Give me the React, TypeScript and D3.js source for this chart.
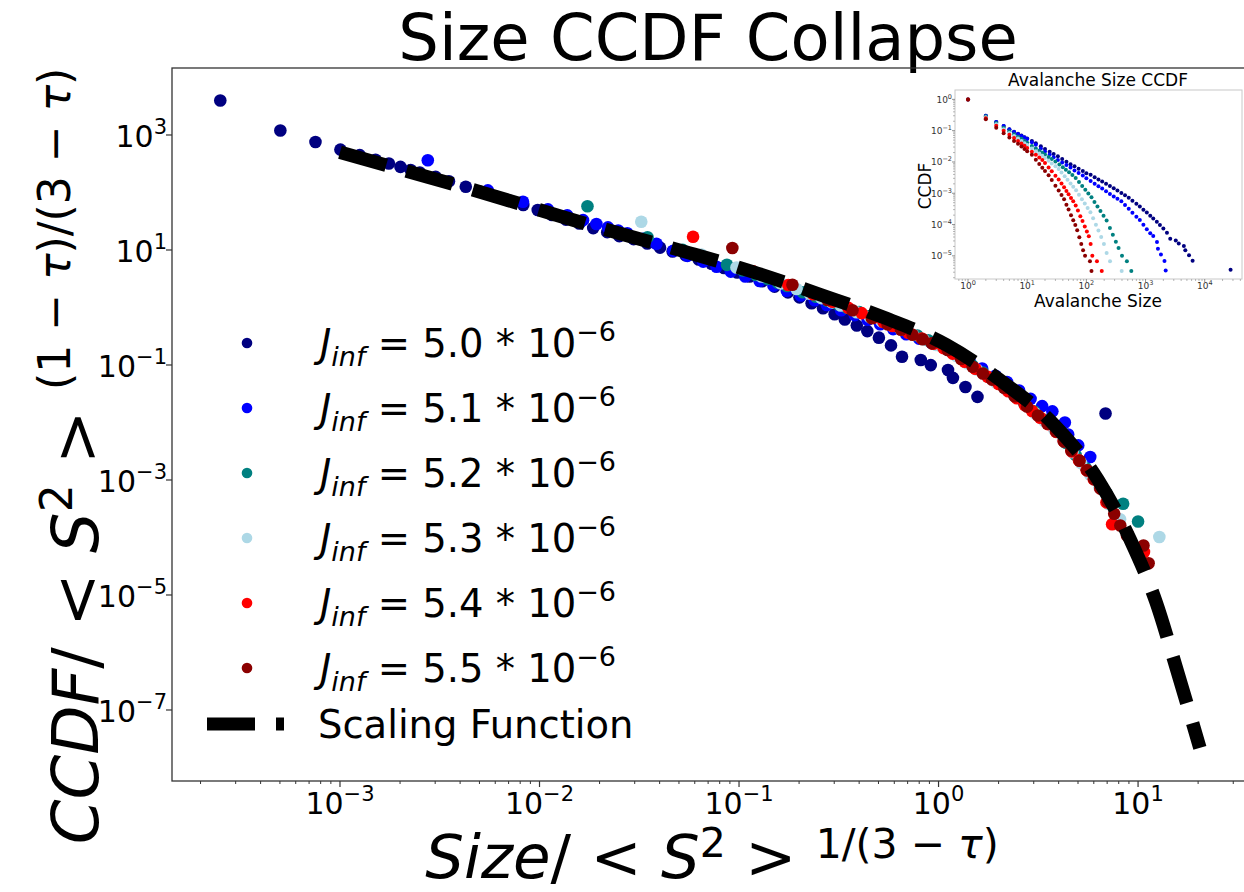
import React from 'react';
import * as d3 from 'd3';

// avalanche CCDF per J_inf run, collapsed with <S^2> factors
const jLabels = ['5.0', '5.1', '5.2', '5.3', '5.4', '5.5'];
const colors = ['#000080', '#0000ff', '#008080', '#add8e6', '#ff0000', '#8b0000'];
const s2Factors = [3981, 363, 57.5, 30.9, 17.0, 10.8];

const sizes50 = [1, 2, 3, 4, 5, 6, 7, 8, 9, 10, 12, 14, 17, 20, 24, 28, 33, 39, 46, 54, 63, 74, 87, 100, 118, 138, 160, 185, 215, 250, 290, 335, 390, 450, 520, 600, 700, 800, 920, 1050, 1200, 1350, 1550, 1750, 2000, 2300, 2612, 3243, 3640, 4440, 4700, 5430, 6240, 27350];
const ccdf50 = [1, 0.30, 0.19, 0.14, 0.112, 0.093, 0.08, 0.07, 0.062, 0.056, 0.0469, 0.0393, 0.0316, 0.0262, 0.0213, 0.0181, 0.0152, 0.01247, 0.0102, 0.00847, 0.00726, 0.00604, 0.00513, 0.00437, 0.00388, 0.00326, 0.00276, 0.00237, 0.00203, 0.00172, 0.00145, 0.00122, 0.00102, 0.000867, 0.000718, 0.00058, 0.000461, 0.000377, 0.000298, 0.000243, 0.000192, 0.000155, 0.000122, 9.75e-5, 7.5e-5, 5.5e-5, 3.5e-5, 3.07e-5, 2.5e-5, 2.06e-5, 1.5e-5, 1.04e-5, 7.0e-6, 3.6e-6];

const sizes51 = [1, 2, 3, 4, 5, 6, 7, 8, 9, 10, 12, 14, 17, 20, 24, 28, 33, 39, 46, 54, 63, 74, 87, 100, 118, 138, 160, 185, 215, 250, 290, 335, 390, 450, 520, 600, 700, 800, 920, 1050, 1200, 1350, 1560, 1620, 1820, 2090, 2190];
const ccdf51 = [1, 0.30, 0.19, 0.14, 0.11, 0.091, 0.078, 0.068, 0.060, 0.054, 0.043, 0.0354, 0.0267, 0.0218, 0.0173, 0.0141, 0.0116, 0.00955, 0.00796, 0.0066, 0.00538, 0.00446, 0.00367, 0.00304, 0.00247, 0.00203, 0.00169, 0.00141, 0.00116, 0.000946, 0.000792, 0.000667, 0.000555, 0.000425, 0.000318, 0.000239, 0.000179, 0.000139, 9.9e-5, 7.1e-5, 5.3e-5, 4.3e-5, 2.75e-5, 1.7e-5, 1.1e-5, 6.9e-6, 3.4e-6];

const sizes52 = [1, 2, 3, 4, 5, 6, 7, 8, 9, 10, 12, 14, 16, 18, 20, 23, 26, 30, 35, 40, 45, 51, 58, 66, 75, 85, 96, 108, 122, 137, 154, 173, 195, 220, 250, 280, 315, 350, 400, 484, 575];
const ccdf52 = [1, 0.29, 0.175, 0.125, 0.096, 0.077, 0.064, 0.055, 0.047, 0.041, 0.0321, 0.0268, 0.0228, 0.0197, 0.0172, 0.01445, 0.0124, 0.01038, 0.00828, 0.00676, 0.00566, 0.00468, 0.00385, 0.00305, 0.00228, 0.0017, 0.00129, 0.00098, 0.00074, 0.00053, 0.000378, 0.000272, 0.000192, 0.000135, 7.7e-5, 4.7e-5, 2.8e-5, 1.78e-5, 1.0e-5, 6.7e-6, 3.3e-6];

const sizes53 = [1, 2, 3, 4, 5, 6, 7, 8, 9, 10, 12, 14, 16, 18, 20, 23, 26, 30, 34, 38, 43, 48, 54, 60, 67, 75, 84, 94, 105, 117, 130, 145, 160, 178, 198, 220, 251, 395];
const ccdf53 = [1, 0.27, 0.16, 0.112, 0.085, 0.068, 0.056, 0.047, 0.040, 0.035, 0.0267, 0.022, 0.0186, 0.0157, 0.0134, 0.01084, 0.009, 0.00724, 0.006, 0.00461, 0.00348, 0.0027, 0.00206, 0.00161, 0.00124, 0.000895, 0.000646, 0.000467, 0.00034, 0.000249, 0.000158, 9.8e-5, 6.4e-5, 4.0e-5, 2.4e-5, 1.24e-5, 6.7e-6, 3.3e-6];

const sizes54 = [1, 2, 3, 4, 5, 6, 7, 8, 9, 10, 12, 14, 16, 18, 20, 23, 26, 30, 34, 38, 42, 46, 50, 55, 60, 66, 72, 79, 86, 94, 102, 110, 118, 126, 151, 182];
const ccdf54 = [1, 0.25, 0.145, 0.1, 0.074, 0.058, 0.047, 0.039, 0.033, 0.028, 0.0214, 0.0169, 0.0138, 0.01156, 0.00929, 0.00671, 0.00507, 0.00365, 0.00274, 0.00205, 0.00155, 0.00118, 0.000933, 0.000711, 0.000552, 0.000404, 0.000279, 0.000185, 0.000129, 8.7e-5, 6.05e-5, 4.2e-5, 2.4e-5, 1.0e-5, 6.7e-6, 3.3e-6];

const sizes55 = [1, 2, 3, 4, 5, 6, 7, 8, 9, 10, 12, 14, 16, 18, 20, 23, 26, 30, 34, 38, 42, 46, 50, 55, 60, 65, 70, 76, 82, 88, 95, 115, 122];
const ccdf55 = [1, 0.23, 0.125, 0.083, 0.06, 0.047, 0.038, 0.031, 0.026, 0.022, 0.0169, 0.01178, 0.00865, 0.00659, 0.00516, 0.00373, 0.00264, 0.001746, 0.001222, 0.000883, 0.000646, 0.000432, 0.000301, 0.0002, 0.000136, 9.6e-5, 6.6e-5, 3.9e-5, 2.4e-5, 1.5e-5, 1.0e-5, 6.7e-6, 3.3e-6];

// scaling function
const scalingX = [0.001, 0.00275, 0.00589, 0.0126, 0.0269, 0.0562, 0.1175, 0.257, 0.537, 1.096, 2.14, 3.80, 6.31, 9.12, 12.3, 15.5, 20.4];
const scalingY = [501, 186, 87.1, 38.9, 18.2, 8.91, 4.17, 1.66, 0.661, 0.224, 0.0479, 0.00912, 0.001, 9.3e-5, 7.6e-6, 5.6e-7, 2.2e-8];

const mainXTicks = [1e-3, 1e-2, 1e-1, 1, 10];
const mainYTicks = [1e3, 1e1, 1e-1, 1e-3, 1e-5, 1e-7];
const insetXTicks = [1, 10, 100, 1000, 10000];
const insetYTicks = [1, 1e-1, 1e-2, 1e-3, 1e-4, 1e-5];

const allSizes = [sizes50, sizes51, sizes52, sizes53, sizes54, sizes55];
const allCcdf = [ccdf50, ccdf51, ccdf52, ccdf53, ccdf54, ccdf55];

const FONT = 'DejaVu Sans';

function expText(v: number) {
  const e = Math.round(Math.log10(v));
  return e < 0 ? '\u2212' + Math.abs(e) : String(e);
}

function minorTicks(lo: number, hi: number) {
  const out: number[] = [];
  for (let e = Math.floor(Math.log10(lo)); e <= Math.ceil(Math.log10(hi)); e++) {
    for (let m = 2; m <= 9; m++) {
      const v = m * Math.pow(10, e);
      if (v >= lo && v <= hi) out.push(v);
    }
  }
  return out;
}

export default function App() {
  // main axes
  const L = 172, R = 1246, T = 68, B = 781;
  const x = d3.scaleLog().domain([Math.pow(10, -3.842), Math.pow(10, 1.541)]).range([L, R]);
  const y = d3.scaleLog().domain([Math.pow(10, 4.165), Math.pow(10, -8.235)]).range([T, B]);

  // inset axes
  const iL = 955, iR = 1242, iT = 90, iB = 279;
  const ix = d3.scaleLog().domain([Math.pow(10, -0.22), Math.pow(10, 4.63)]).range([iL, iR]);
  const iy = d3.scaleLog().domain([Math.pow(10, 0.3), Math.pow(10, -5.74)]).range([iT, iB]);

  const scalingPts = scalingX.map((v, i) => [x(v), y(scalingY[i])] as [number, number]);
  const scalingPath = d3.line().curve(d3.curveMonotoneX)(scalingPts) || '';

  const dash = '48 21';

  return (
    <div style={{ position: 'absolute', left: 0, top: 0 }}>
      <svg width={1244} height={892} style={{ display: 'block', background: '#fff' }} fontFamily={FONT}>
        <defs>
          <clipPath id="mainClip">
            <rect x={L} y={T} width={R - L} height={B - T} />
          </clipPath>
        </defs>

        {/* title */}
        <text x={708} y={60} textAnchor="middle" fontSize={64} fill="#000">Size CCDF Collapse</text>

        {/* collapsed data */}
        <g clipPath="url(#mainClip)">
          {allSizes.map((sz, i) => (
            <g key={i} fill={colors[i]}>
              {sz.map((s, k) => (
                <circle key={k} cx={x(s / s2Factors[i])} cy={y(allCcdf[i][k] * s2Factors[i])} r={6.3} />
              ))}
            </g>
          ))}
          <path d={scalingPath} fill="none" stroke="#000" strokeWidth={13.5} strokeDasharray={dash} />
        </g>

        {/* main axes frame */}
        <rect x={L} y={T} width={R - L} height={B - T} fill="none" stroke="#333" strokeWidth={1.3} />

        {/* x ticks */}
        {minorTicks(x.domain()[0], x.domain()[1]).map((v, i) => (
          <line key={'mx' + i} x1={x(v)} x2={x(v)} y1={B} y2={B + 3} stroke="#333" strokeWidth={1} />
        ))}
        {mainXTicks.map((v, i) => (
          <g key={'x' + i}>
            <line x1={x(v)} x2={x(v)} y1={B} y2={B + 6} stroke="#333" strokeWidth={1.2} />
            <text x={x(v)} y={814} textAnchor="middle" fontSize={30}>
              10<tspan dy={-13} fontSize={21}>{expText(v)}</tspan>
            </text>
          </g>
        ))}

        {/* y ticks */}
        {mainYTicks.map((v, i) => (
          <g key={'y' + i}>
            <line x1={L - 6} x2={L} y1={y(v)} y2={y(v)} stroke="#333" strokeWidth={1.2} />
            <text x={167} y={y(v) + 12} textAnchor="end" fontSize={30}>
              10<tspan dy={-13} fontSize={21}>{expText(v)}</tspan>
            </text>
          </g>
        ))}

        {/* x label */}
        <text x={712} y={878} textAnchor="middle" fontSize={61} style={{ whiteSpace: 'pre' }}>
          <tspan fontStyle="italic">Size</tspan>
          <tspan>/ &lt; </tspan>
          <tspan fontStyle="italic">S</tspan>
          <tspan dy={-21} fontSize={41}>2</tspan>
          <tspan dy={21}> &gt; </tspan>
          <tspan dy={-20} fontSize={41}>1/(3 − <tspan fontStyle="italic">τ</tspan>)</tspan>
        </text>

        {/* y label */}
        <text transform="translate(98,456) rotate(-90)" textAnchor="middle" fontSize={64} style={{ whiteSpace: 'pre' }}>
          <tspan fontStyle="italic">CCDF</tspan>
          <tspan>/ &lt; </tspan>
          <tspan fontStyle="italic">S</tspan>
          <tspan dy={-26} fontSize={44}>2</tspan>
          <tspan dy={26}> &gt; </tspan>
          <tspan dy={-28} fontSize={44}>(1 − <tspan fontStyle="italic">τ</tspan>)/(3 − <tspan fontStyle="italic">τ</tspan>)</tspan>
        </text>

        {/* legend */}
        {jLabels.map((lab, i) => {
          const cy = 343 + i * 65;
          return (
            <g key={'lg' + i}>
              <circle cx={247} cy={cy} r={5.3} fill={colors[i]} />
              <text x={320} y={cy + 14} fontSize={38.5} style={{ whiteSpace: 'pre' }}>
                <tspan fontStyle="italic">J</tspan>
                <tspan dy={9} fontSize={27} fontStyle="italic">inf</tspan>
                <tspan dy={-9}>{' = ' + lab + ' * 10'}</tspan>
                <tspan dy={-16} fontSize={27}>{'\u22126'}</tspan>
              </text>
            </g>
          );
        })}
        <line x1={207} x2={284} y1={724} y2={724} stroke="#000" strokeWidth={13} strokeDasharray={dash} />
        <text x={318} y={738} fontSize={38.5}>Scaling Function</text>

        {/* inset */}
        <rect x={iL} y={iT} width={iR - iL} height={iB - iT} fill="#fff" stroke="#c8c8c8" strokeWidth={1} />
        {allSizes.map((sz, i) => (
          <g key={'in' + i} fill={colors[i]}>
            {sz.map((s, k) => (
              <circle key={k} cx={ix(s)} cy={iy(allCcdf[i][k])} r={2} />
            ))}
          </g>
        ))}
        {minorTicks(ix.domain()[0], ix.domain()[1]).map((v, i) => (
          <line key={'imx' + i} x1={ix(v)} x2={ix(v)} y1={iB} y2={iB + 2} stroke="#999" strokeWidth={0.7} />
        ))}
        {minorTicks(iy.domain()[1], iy.domain()[0]).map((v, i) => (
          <line key={'imy' + i} x1={iL - 2} x2={iL} y1={iy(v)} y2={iy(v)} stroke="#999" strokeWidth={0.7} />
        ))}
        {insetXTicks.map((v, i) => (
          <g key={'ixt' + i}>
            <line x1={ix(v)} x2={ix(v)} y1={iB} y2={iB + 3} stroke="#777" strokeWidth={0.8} />
            <text x={ix(v)} y={289} textAnchor="middle" fontSize={9} fill="#333">
              10<tspan dy={-4} fontSize={6.5}>{expText(v)}</tspan>
            </text>
          </g>
        ))}
        {insetYTicks.map((v, i) => (
          <g key={'iyt' + i}>
            <line x1={iL - 3} x2={iL} y1={iy(v)} y2={iy(v)} stroke="#777" strokeWidth={0.8} />
            <text x={952} y={iy(v) + 3.5} textAnchor="end" fontSize={9} fill="#333">
              10<tspan dy={-4} fontSize={6.5}>{expText(v)}</tspan>
            </text>
          </g>
        ))}
        <text x={1098} y={86} textAnchor="middle" fontSize={17}>Avalanche Size CCDF</text>
        <text x={1098} y={307} textAnchor="middle" fontSize={17}>Avalanche Size</text>
        <text transform="translate(931,186) rotate(-90)" textAnchor="middle" fontSize={17}>CCDF</text>
      </svg>
    </div>
  );
}
